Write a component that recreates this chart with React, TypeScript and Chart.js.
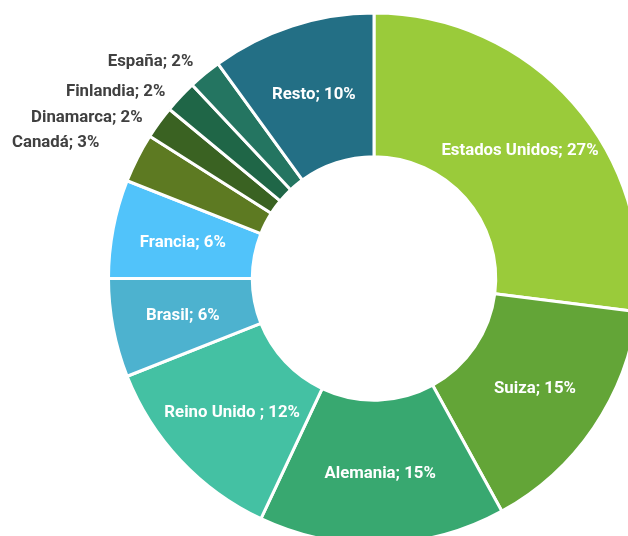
import React, { useEffect, useRef } from "react";
import { Chart, registerables } from "chart.js";

Chart.register(...registerables);

const categories = [
  "Estados Unidos",
  "Suiza",
  "Alemania",
  "Reino Unido ",
  "Brasil",
  "Francia",
  "Canadá",
  "Dinamarca",
  "Finlandia",
  "España",
  "Resto",
];
const shares = [27, 15, 15, 12, 6, 6, 3, 2, 2, 2, 10];
const colors = [
  "#9ACB3A",
  "#63A537",
  "#38A870",
  "#44C1A3",
  "#4DB2CF",
  "#51C3FA",
  "#5D7A22",
  "#3A6222",
  "#1F6647",
  "#247561",
  "#236F85",
];
const outsideNudge: Record<string, [number, number]> = {
  "Canadá": [-22, -7],
  "Dinamarca": [-2, 6],
  "Finlandia": [-2, 7],
  "España": [0, 2],
};

const labelPlugin = {
  id: "sliceLabels",
  afterDatasetsDraw(chart: any) {
    const ctx = chart.ctx;
    const meta = chart.getDatasetMeta(0);
    ctx.save();
    ctx.font = "bold 16.8px Roboto";
    ctx.textBaseline = "middle";
    meta.data.forEach((arc: any, i: number) => {
      const p = arc.getProps(["x", "y", "startAngle", "endAngle", "innerRadius", "outerRadius"], true);
      const mid = (p.startAngle + p.endAngle) / 2;
      const v = shares[i];
      const text = `${categories[i]}; ${v}%`;
      if (v >= 4) {
        const r = (p.innerRadius + p.outerRadius) / 2 + 1;
        ctx.fillStyle = "#FFFFFF";
        ctx.textAlign = "center";
        ctx.fillText(text, p.x + r * Math.cos(mid), p.y + r * Math.sin(mid) + 1);
      } else {
        const r = p.outerRadius + 18;
        const n = outsideNudge[categories[i]] || [0, 0];
        ctx.fillStyle = "#404040";
        ctx.textAlign = "right";
        ctx.fillText(text, p.x + r * Math.cos(mid) + n[0], p.y + r * Math.sin(mid) + n[1]);
      }
    });
    ctx.restore();
  },
};

export default function App() {
  const ref = useRef<HTMLCanvasElement>(null);
  useEffect(() => {
    if (!ref.current) return;
    const chart = new Chart(ref.current, {
      type: "doughnut",
      data: {
        labels: categories,
        datasets: [
          {
            data: shares,
            backgroundColor: colors,
            borderColor: "#FFFFFF",
            borderWidth: 3,
          },
        ],
      },
      options: {
        responsive: false,
        animation: false,
        radius: 265.5,
        cutout: 127,
        events: [],
        layout: { padding: { left: 94, top: 0, right: 0, bottom: 0 } },
        plugins: {
          legend: { display: false },
          tooltip: { enabled: false },
        },
      },
      plugins: [labelPlugin],
    });
    return () => chart.destroy();
  }, []);
  return (
    <div
      style={{
        position: "fixed",
        left: 0,
        top: 0,
        width: 628,
        height: 536,
        overflow: "hidden",
        background: "#FFFFFF",
      }}
    >
      <canvas
        ref={ref}
        width={654}
        height={557}
        style={{ position: "absolute", left: 0, top: 0, width: 654, height: 557 }}
      />
    </div>
  );
}
